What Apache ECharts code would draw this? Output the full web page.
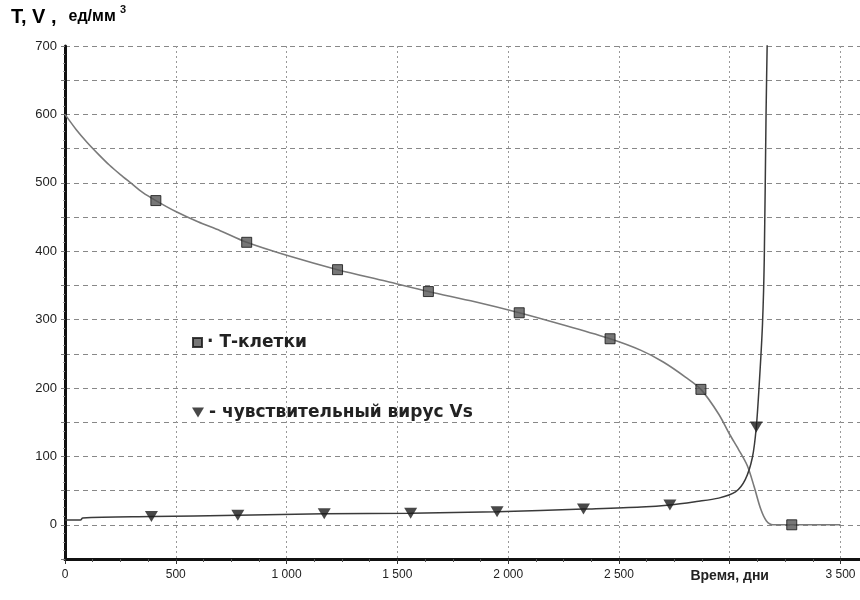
<!DOCTYPE html>
<html>
<head>
<meta charset="utf-8">
<script src="https://cdn.jsdelivr.net/npm/echarts@6/dist/echarts.min.js"></script>
<style>
  html, body { margin: 0; padding: 0; background: #fff; }
  #chart { width: 860px; height: 600px; }
</style>
</head>
<body>
<div id="chart"></div>
<script>
// T-cell count curve (days, cells per mm^3)
const tDays  = [0, 50, 100, 150, 200, 250, 300, 350, 410, 500, 600, 700, 820, 1000, 1230, 1450, 1640, 1850, 2050, 2250, 2460, 2600, 2700, 2800, 2870, 2950, 3000, 3040, 3080, 3110, 3140, 3165, 3195, 3280, 3500];
const tCells = [600, 578, 559, 542, 526, 512, 499, 486, 474, 458, 443, 430, 413, 394, 373, 356, 341, 326, 310, 292, 272, 255, 238, 216, 198, 162, 132, 110, 86, 56, 23, 6, 0, 0, 0];

// Sensitive virus Vs curve
const vDays  = [0, 70, 80, 390, 780, 1170, 1560, 1950, 2340, 2600, 2730, 2850, 2950, 3026, 3070, 3102, 3120, 3135, 3148, 3156, 3164, 3170, 3175];
const vVirus = [7, 7, 10, 12, 14, 16, 17, 19, 23, 26, 29, 34, 39, 48, 66, 98, 143, 215, 294, 389, 600, 720, 800];

// Marker points on each curve
const tMarkDays = [410, 820, 1230, 1640, 2050, 2460, 2870, 3280];
const tMarkVals = [474, 413, 373, 341, 310, 272, 198, 0];
const vMarkDays = [390, 780, 1170, 1560, 1950, 2340, 2730, 3120];
const vMarkVals = [12, 14, 16, 17, 19, 23, 29, 143];

const tName = 'Т-клетки';
const vName = 'чувствительный вирус Vs';

const zip = (xs, ys) => xs.map((x, i) => [x, ys[i]]);
const fmtThousands = v => String(v).replace(/\B(?=(\d{3})+(?!\d))/g, ' ');

const chart = echarts.init(document.getElementById('chart'), null, { renderer: 'canvas' });

const legendText = { fontSize: 17, fontWeight: 'bold', color: '#222', fontFamily: 'DejaVu Sans, Liberation Sans, sans-serif' };
const titleFont = 'Liberation Sans, Arial, sans-serif';

chart.setOption({
  animation: false,
  backgroundColor: '#ffffff',
  textStyle: { fontFamily: 'Liberation Sans, Arial, sans-serif' },
  grid: { left: 65, top: 46, right: 0, bottom: 41, containLabel: false },
  xAxis: {
    type: 'value',
    min: 0,
    max: 3588,
    interval: 500,
    axisLine: { show: true, onZero: false, lineStyle: { color: '#111', width: 3 } },
    axisTick: { show: true, length: 5, lineStyle: { color: '#333', width: 1 } },
    minorTick: { show: true, splitNumber: 4, length: 3, lineStyle: { color: '#555' } },
    splitLine: { show: true, lineStyle: { color: '#999', type: [2, 3], width: 1 } },
    axisLabel: {
      margin: 10,
      showMaxLabel: false,
      color: '#222',
      fontSize: 12,
      fontFamily: 'Liberation Sans Narrow, Liberation Sans, Arial, sans-serif',
      formatter: v => v === 3000 ? '{n|Время, дни}' : (v % 500 === 0 ? fmtThousands(v) : ''),
      rich: {
        n: { fontSize: 14, fontWeight: 'bold', color: '#222', fontFamily: 'Liberation Sans, Arial, sans-serif' }
      }
    }
  },
  yAxis: {
    type: 'value',
    min: -50,
    max: 700,
    interval: 50,
    axisLine: { show: true, onZero: false, lineStyle: { color: '#111', width: 3 } },
    axisTick: { show: true, length: 4, lineStyle: { color: '#777', width: 1 } },
    minorTick: { show: true, splitNumber: 4, length: 2, lineStyle: { color: '#999' } },
    splitLine: { show: true, lineStyle: { color: '#888', type: [5, 4], width: 1 } },
    axisLabel: {
      margin: 8,
      color: '#222',
      fontSize: 13,
      formatter: v => (v >= 0 && v % 100 === 0) ? String(v) : ''
    }
  },
  legend: [
    {
      left: 187, top: 329,
      orient: 'vertical',
      itemWidth: 9, itemHeight: 9,
      data: [{ name: tName, icon: 'rect' }],
      formatter: '· {name}',
      textStyle: legendText
    },
    {
      left: 187, top: 399,
      orient: 'vertical',
      itemWidth: 12, itemHeight: 10,
      data: [{ name: vName, icon: 'path://M0,0L12,0L6,10Z' }],
      formatter: '- {name}',
      textStyle: legendText
    }
  ],
  graphic: [
    {
      type: 'text', left: 11, top: 7,
      style: {
        text: '{a|T, V ,}{s| }{b|ед/мм}',
        rich: {
          a: { fontSize: 20, fontWeight: 'bold', color: '#111', fontFamily: titleFont },
          s: { width: 12 },
          b: { fontSize: 16, fontWeight: 'bold', color: '#111', fontFamily: titleFont }
        }
      }
    },
    {
      type: 'text', left: 120, top: 4,
      style: { text: '3', fontSize: 11, fontWeight: 'bold', fill: '#111', fontFamily: titleFont }
    }
  ],
  series: [
    {
      name: tName + ' curve',
      type: 'line',
      data: zip(tDays, tCells),
      smooth: 0.3,
      showSymbol: false,
      lineStyle: { color: '#7a7a7a', width: 1.6 },
      z: 3
    },
    {
      name: vName + ' curve',
      type: 'line',
      data: zip(vDays, vVirus),
      smooth: 0.3,
      showSymbol: false,
      lineStyle: { color: '#3a3a3a', width: 1.5 },
      z: 3
    },
    {
      name: tName,
      type: 'scatter',
      data: zip(tMarkDays, tMarkVals),
      symbol: 'rect',
      symbolSize: 10,
      itemStyle: { color: '#555', borderColor: '#111', borderWidth: 1 },
      z: 5
    },
    {
      name: vName,
      type: 'scatter',
      data: zip(vMarkDays, vMarkVals),
      symbol: 'triangle',
      symbolRotate: 180,
      symbolSize: [13, 11],
      itemStyle: { color: '#1a1a1a' },
      z: 5
    }
  ]
});
</script>
</body>
</html>
